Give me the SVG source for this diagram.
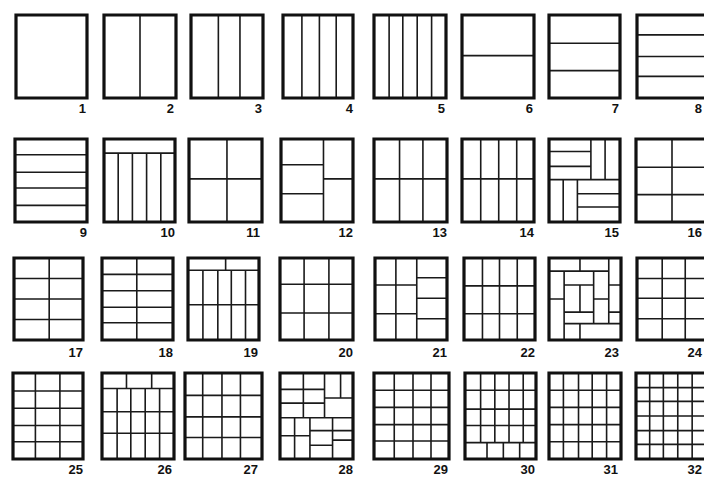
<svg xmlns="http://www.w3.org/2000/svg" width="704" height="478" viewBox="0 0 704 478">
<style>
.bg{fill:#fff}
.fr{fill:none;stroke:#111;stroke-width:3.2;vector-effect:non-scaling-stroke}
.ln{fill:none;stroke:#1a1a1a;stroke-width:1.6;vector-effect:non-scaling-stroke}
.lb{font-family:"Liberation Sans",Arial,sans-serif;font-weight:bold;font-size:13px;fill:#111;text-anchor:end}
</style>
<rect class="bg" x="0" y="0" width="704" height="478"/>
<g id="connectors"/>
<!-- Row 1 -->
<g id="p1"><svg x="16" y="15" width="71" height="83" viewBox="0 0 100 100" preserveAspectRatio="none" overflow="visible"><rect class="fr" x="0" y="0" width="100" height="100"/></svg><text class="lb" x="86" y="113">1</text></g>
<g id="p2"><svg x="104" y="15" width="72" height="83" viewBox="0 0 100 100" preserveAspectRatio="none" overflow="visible"><path class="ln" d="M50 0V100"/><rect class="fr" x="0" y="0" width="100" height="100"/></svg><text class="lb" x="174" y="113">2</text></g>
<g id="p3"><svg x="191" y="15" width="72" height="83" viewBox="0 0 100 100" preserveAspectRatio="none" overflow="visible"><path class="ln" d="M38 0V100M68 0V100"/><rect class="fr" x="0" y="0" width="100" height="100"/></svg><text class="lb" x="262" y="113">3</text></g>
<g id="p4"><svg x="283" y="15" width="70" height="83" viewBox="0 0 100 100" preserveAspectRatio="none" overflow="visible"><path class="ln" d="M27 0V100M52 0V100M76 0V100"/><rect class="fr" x="0" y="0" width="100" height="100"/></svg><text class="lb" x="353" y="113">4</text></g>
<g id="p5"><svg x="374" y="15" width="72" height="83" viewBox="0 0 100 100" preserveAspectRatio="none" overflow="visible"><path class="ln" d="M21 0V100M40 0V100M60 0V100M80 0V100"/><rect class="fr" x="0" y="0" width="100" height="100"/></svg><text class="lb" x="445" y="113">5</text></g>
<g id="p6"><svg x="462" y="15" width="72" height="83" viewBox="0 0 100 100" preserveAspectRatio="none" overflow="visible"><path class="ln" d="M0 49H100"/><rect class="fr" x="0" y="0" width="100" height="100"/></svg><text class="lb" x="533" y="113">6</text></g>
<g id="p7"><svg x="549" y="15" width="71" height="83" viewBox="0 0 100 100" preserveAspectRatio="none" overflow="visible"><path class="ln" d="M0 34H100M0 67H100"/><rect class="fr" x="0" y="0" width="100" height="100"/></svg><text class="lb" x="619" y="113">7</text></g>
<g id="p8"><svg x="637" y="15" width="72" height="83" viewBox="0 0 100 100" preserveAspectRatio="none" overflow="visible"><path class="ln" d="M0 24H100M0 50H100M0 74H100"/><rect class="fr" x="0" y="0" width="100" height="100"/></svg><text class="lb" x="702" y="113">8</text></g>
<!-- Row 2 -->
<g id="p9"><svg x="15" y="139" width="72" height="83" viewBox="0 0 100 100" preserveAspectRatio="none" overflow="visible"><path class="ln" d="M0 19H100M0 40H100M0 59H100M0 80H100"/><rect class="fr" x="0" y="0" width="100" height="100"/></svg><text class="lb" x="87" y="237">9</text></g>
<g id="p10"><svg x="104" y="139" width="71" height="83" viewBox="0 0 100 100" preserveAspectRatio="none" overflow="visible"><path class="ln" d="M0 17H100M20 17V100M40 17V100M60 17V100M80 17V100"/><rect class="fr" x="0" y="0" width="100" height="100"/></svg><text class="lb" x="175" y="237">10</text></g>
<g id="p11"><svg x="189" y="139" width="73" height="83" viewBox="0 0 100 100" preserveAspectRatio="none" overflow="visible"><path class="ln" d="M52 0V100M0 48H100"/><rect class="fr" x="0" y="0" width="100" height="100"/></svg><text class="lb" x="260" y="237">11</text></g>
<g id="p12"><svg x="281" y="139" width="72" height="83" viewBox="0 0 100 100" preserveAspectRatio="none" overflow="visible"><path class="ln" d="M59 0V100M0 31H59M0 66H59M59 48H100"/><rect class="fr" x="0" y="0" width="100" height="100"/></svg><text class="lb" x="353" y="237">12</text></g>
<g id="p13"><svg x="374" y="139" width="73" height="83" viewBox="0 0 100 100" preserveAspectRatio="none" overflow="visible"><path class="ln" d="M35 0V100M67 0V100M0 48H100"/><rect class="fr" x="0" y="0" width="100" height="100"/></svg><text class="lb" x="447" y="237">13</text></g>
<g id="p14"><svg x="462" y="139" width="72" height="83" viewBox="0 0 100 100" preserveAspectRatio="none" overflow="visible"><path class="ln" d="M26 0V100M51 0V100M76 0V100M0 48H100"/><rect class="fr" x="0" y="0" width="100" height="100"/></svg><text class="lb" x="534" y="237">14</text></g>
<g id="p15"><svg x="549" y="139" width="71" height="83" viewBox="0 0 100 100" preserveAspectRatio="none" overflow="visible"><path class="ln" d="M0 15H59M0 33H59M59 0V49M79 0V49M0 49H100M20 49V100M40 49V100M40 66H100M40 82H100"/><rect class="fr" x="0" y="0" width="100" height="100"/></svg><text class="lb" x="619" y="237">15</text></g>
<g id="p16"><svg x="636" y="139" width="72" height="83" viewBox="0 0 100 100" preserveAspectRatio="none" overflow="visible"><path class="ln" d="M50 0V100M0 34H100M0 67H100"/><rect class="fr" x="0" y="0" width="100" height="100"/></svg><text class="lb" x="702" y="237">16</text></g>
<!-- Row 3 -->
<g id="p17"><svg x="14" y="258" width="69" height="82" viewBox="0 0 100 100" preserveAspectRatio="none" overflow="visible"><path class="ln" d="M51 0V100M0 25H100M0 50H100M0 75H100"/><rect class="fr" x="0" y="0" width="100" height="100"/></svg><text class="lb" x="83" y="357">17</text></g>
<g id="p18"><svg x="102" y="258" width="71" height="82" viewBox="0 0 100 100" preserveAspectRatio="none" overflow="visible"><path class="ln" d="M49 0V100M0 20H100M0 40H100M0 60H100M0 79H100"/><rect class="fr" x="0" y="0" width="100" height="100"/></svg><text class="lb" x="173" y="357">18</text></g>
<g id="p19"><svg x="188" y="258" width="71" height="82" viewBox="0 0 100 100" preserveAspectRatio="none" overflow="visible"><path class="ln" d="M0 15H100M53 0V15M21 15V100M42 15V100M61 15V100M81 15V100M0 57H100"/><rect class="fr" x="0" y="0" width="100" height="100"/></svg><text class="lb" x="258" y="357">19</text></g>
<g id="p20"><svg x="280" y="258" width="73" height="82" viewBox="0 0 100 100" preserveAspectRatio="none" overflow="visible"><path class="ln" d="M33 0V100M67 0V100M0 32H100M0 67H100"/><rect class="fr" x="0" y="0" width="100" height="100"/></svg><text class="lb" x="353" y="357">20</text></g>
<g id="p21"><svg x="375" y="258" width="72" height="82" viewBox="0 0 100 100" preserveAspectRatio="none" overflow="visible"><path class="ln" d="M29 0V100M58 0V100M0 33H58M0 68H58M58 24H100M58 49H100M58 74H100"/><rect class="fr" x="0" y="0" width="100" height="100"/></svg><text class="lb" x="447" y="357">21</text></g>
<g id="p22"><svg x="464" y="258" width="71" height="82" viewBox="0 0 100 100" preserveAspectRatio="none" overflow="visible"><path class="ln" d="M26 0V100M50 0V100M75 0V100M0 34H100M0 68H100"/><rect class="fr" x="0" y="0" width="100" height="100"/></svg><text class="lb" x="535" y="357">22</text></g>
<g id="p23"><svg x="549" y="258" width="72" height="82" viewBox="0 0 100 100" preserveAspectRatio="none" overflow="visible"><path class="ln" d="M0 16H83M43 0V16M83 0V80M83 33H100M83 66H100M21 80H100M43 80V100M21 16V100M0 50H21M62 16V80M62 50H83M21 33H62M21 66H62M43 33V66"/><rect class="fr" x="0" y="0" width="100" height="100"/></svg><text class="lb" x="619" y="357">23</text></g>
<g id="p24"><svg x="637" y="258" width="72" height="82" viewBox="0 0 100 100" preserveAspectRatio="none" overflow="visible"><path class="ln" d="M35 0V100M67 0V100M0 25H100M0 49H100M0 74H100"/><rect class="fr" x="0" y="0" width="100" height="100"/></svg><text class="lb" x="702" y="357">24</text></g>
<!-- Row 4 -->
<g id="p25"><svg x="13" y="373" width="70" height="86" viewBox="0 0 100 100" preserveAspectRatio="none" overflow="visible"><path class="ln" d="M32 0V100M67 0V100M0 21H100M0 41H100M0 61H100M0 80H100"/><rect class="fr" x="0" y="0" width="100" height="100"/></svg><text class="lb" x="83" y="474">25</text></g>
<g id="p26"><svg x="102" y="373" width="72" height="86" viewBox="0 0 100 100" preserveAspectRatio="none" overflow="visible"><path class="ln" d="M0 18H100M34 0V18M69 0V18M21 18V100M40 18V100M60 18V100M80 18V100M0 45H100M0 70H100"/><rect class="fr" x="0" y="0" width="100" height="100"/></svg><text class="lb" x="172" y="474">26</text></g>
<g id="p27"><svg x="185" y="373" width="77" height="86" viewBox="0 0 100 100" preserveAspectRatio="none" overflow="visible"><path class="ln" d="M23 0V100M48 0V100M72 0V100M0 26H100M0 51H100M0 75H100"/><rect class="fr" x="0" y="0" width="100" height="100"/></svg><text class="lb" x="258" y="474">27</text></g>
<g id="p28"><svg x="280" y="373" width="73" height="86" viewBox="0 0 100 100" preserveAspectRatio="none" overflow="visible"><path class="ln" d="M0 19H61M0 35H61M32 0V52M61 0V52M61 29H100M83 0V29M0 52H100M20 52V100M41 52V100M0 73H41M72 52V100M41 67H100M41 84H72M72 78H100"/><rect class="fr" x="0" y="0" width="100" height="100"/></svg><text class="lb" x="353" y="474">28</text></g>
<g id="p29"><svg x="374" y="373" width="75" height="86" viewBox="0 0 100 100" preserveAspectRatio="none" overflow="visible"><path class="ln" d="M27 0V100M52 0V100M76 0V100M0 20H100M0 40H100M0 60H100M0 79H100"/><rect class="fr" x="0" y="0" width="100" height="100"/></svg><text class="lb" x="448" y="474">29</text></g>
<g id="p30"><svg x="465" y="373" width="71" height="86" viewBox="0 0 100 100" preserveAspectRatio="none" overflow="visible"><path class="ln" d="M0 20H100M0 42H100M0 61H100M0 81H100M22 0V81M42 0V81M62 0V81M82 0V81M31 81V100M54 81V100M77 81V100"/><rect class="fr" x="0" y="0" width="100" height="100"/></svg><text class="lb" x="535" y="474">30</text></g>
<g id="p31"><svg x="549" y="373" width="72" height="86" viewBox="0 0 100 100" preserveAspectRatio="none" overflow="visible"><path class="ln" d="M20 0V100M41 0V100M60 0V100M80 0V100M0 20H100M0 40H100M0 60H100M0 80H100"/><rect class="fr" x="0" y="0" width="100" height="100"/></svg><text class="lb" x="618" y="474">31</text></g>
<g id="p32"><svg x="636" y="373" width="72" height="86" viewBox="0 0 100 100" preserveAspectRatio="none" overflow="visible"><path class="ln" d="M19 0V100M38 0V100M58 0V100M78 0V100M0 17H100M0 33H100M0 50H100M0 67H100M0 83H100"/><rect class="fr" x="0" y="0" width="100" height="100"/></svg><text class="lb" x="702" y="474">32</text></g>
</svg>
